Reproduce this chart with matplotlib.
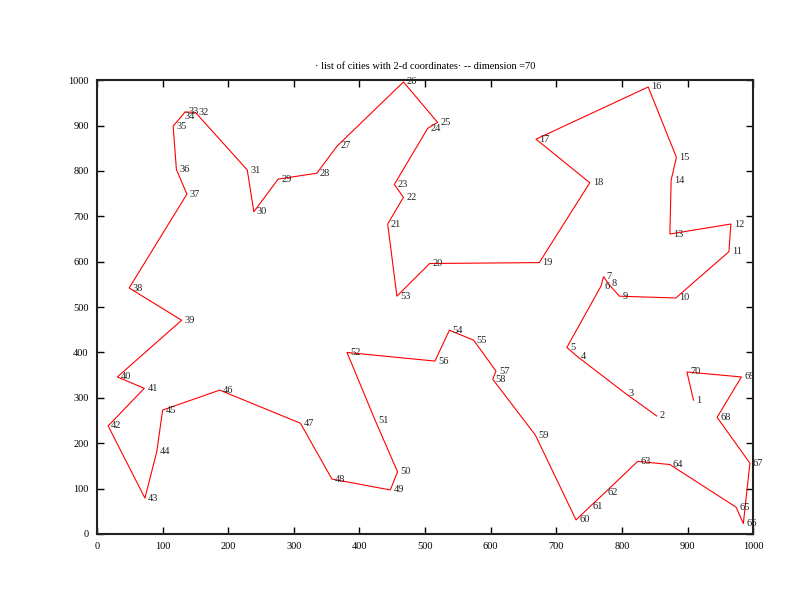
import matplotlib
matplotlib.use("Agg")
import matplotlib.pyplot as plt

# city coordinates, index 0 -> city 1
city_x = [909, 853, 805, 732, 716, 768, 772, 779, 796, 882,
          963, 966, 873, 875, 883, 840, 669, 751, 674, 507,
          443, 467, 453, 504, 519, 467, 366, 335, 276, 239,
          229, 150, 134, 128, 116, 121, 137, 49, 129, 31,
          72, 17, 73, 91, 100, 187, 310, 358, 447, 458,
          424, 381, 457, 537, 574, 515, 608, 603, 668, 730,
          751, 774, 824, 873, 974, 985, 995, 945, 982, 899]
city_y = [295, 260, 310, 391, 411, 546, 567, 552, 524, 520,
          622, 683, 661, 780, 830, 985, 870, 774, 598, 596,
          683, 742, 770, 894, 907, 996, 855, 795, 782, 710,
          802, 929, 930, 919, 899, 803, 749, 542, 471, 346,
          321, 238, 79, 181, 273, 317, 244, 121, 97, 137,
          250, 400, 524, 449, 427, 381, 359, 341, 218, 31,
          60, 91, 160, 153, 59, 23, 156, 257, 346, 357]

# visiting order of the tour (city numbers)
tour = ([1] + list(range(70, 56, -1)) + [55, 54, 56]
        + list(range(52, 20, -1)) + [53] + list(range(20, 1, -1)))

fig = plt.figure(figsize=(7.92, 6.12), dpi=100)
ax = fig.add_axes([0.1225, 0.1275, 0.8285, 0.7415])

xs = [city_x[c - 1] for c in tour]
ys = [city_y[c - 1] for c in tour]
ax.plot(xs, ys, color="#ff0000", lw=0.8)

for i in range(len(city_x)):
    ax.annotate(str(i + 1), (city_x[i], city_y[i]), xytext=(2.2, 0),
                textcoords="offset points", va="center", ha="left",
                fontsize=7.5, family="Liberation Serif", color="#222222")

ax.set_xlim(0, 1000)
ax.set_ylim(0, 1000)
ax.set_xticks(range(0, 1001, 100))
ax.set_yticks(range(0, 1001, 100))
ax.tick_params(direction="in", top=True, right=True, length=5, width=1,
               labelsize=7.5, pad=6)
for lab in ax.get_xticklabels() + ax.get_yticklabels():
    lab.set_family("Liberation Serif")
for s in ax.spines.values():
    s.set_linewidth(1.5)
    s.set_color("#222222")

ax.set_title("\u00b7 list of cities with 2-d coordinates\u00b7 -- dimension =70",
             fontsize=7.5, family="Liberation Serif", pad=8)

fig.savefig("out.png", dpi=100)
